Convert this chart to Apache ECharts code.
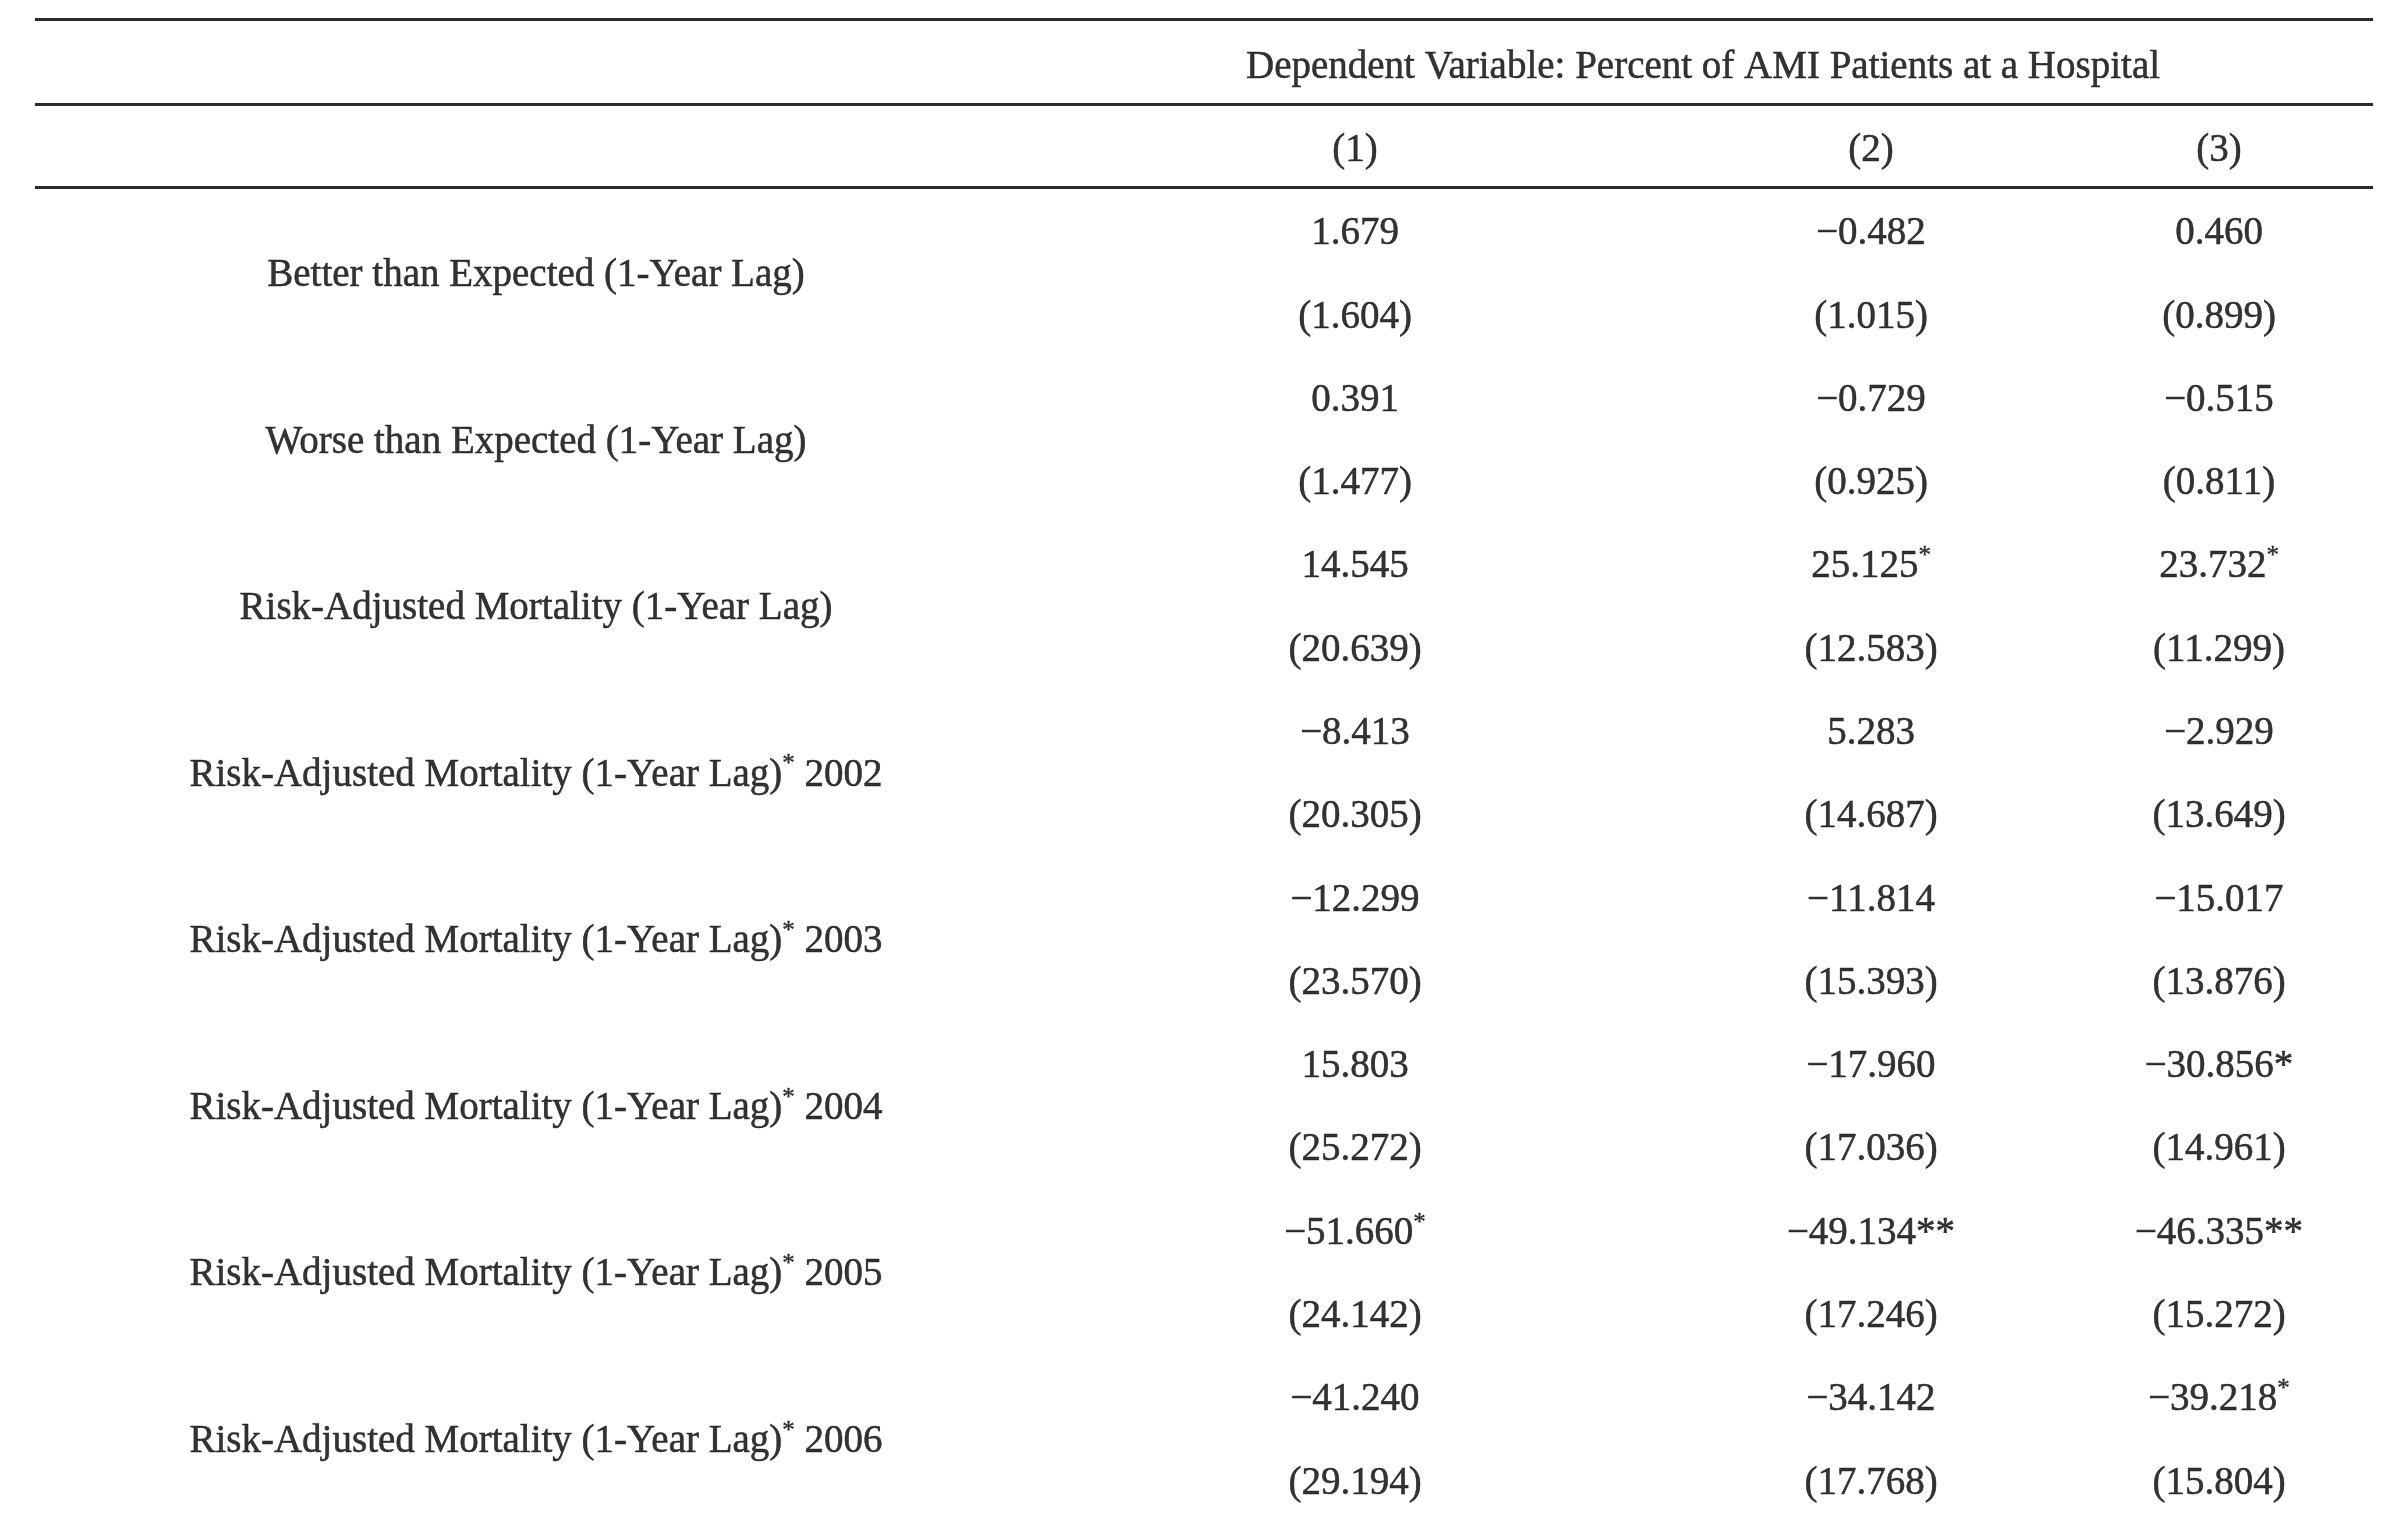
<!DOCTYPE html>
<html>
<head>
<meta charset="utf-8">
<title>AMI regression table</title>
<script src="https://cdn.jsdelivr.net/npm/echarts@6/dist/echarts.min.js"></script>
<style>
    html, body { margin: 0; padding: 0; background: #ffffff; }
    #chart { width: 2404px; height: 1525px; }
</style>
</head>
<body>
<div id="chart"></div>
<script>
// ---- table content ----
const title = 'Dependent Variable: Percent of AMI Patients at a Hospital';
const columnHeads = ['(1)', '(2)', '(3)'];

// "^*" marks a superscript asterisk
const rowLabels = [
    'Better than Expected (1-Year Lag)',
    'Worse than Expected (1-Year Lag)',
    'Risk-Adjusted Mortality (1-Year Lag)',
    'Risk-Adjusted Mortality (1-Year Lag)^* 2002',
    'Risk-Adjusted Mortality (1-Year Lag)^* 2003',
    'Risk-Adjusted Mortality (1-Year Lag)^* 2004',
    'Risk-Adjusted Mortality (1-Year Lag)^* 2005',
    'Risk-Adjusted Mortality (1-Year Lag)^* 2006'
];

const coef1 = [1.679, 0.391, 14.545, -8.413, -12.299, 15.803, -51.660, -41.240];
const stars1 = ['', '', '', '', '', '', '^*', ''];
const se1 = [1.604, 1.477, 20.639, 20.305, 23.570, 25.272, 24.142, 29.194];

const coef2 = [-0.482, -0.729, 25.125, 5.283, -11.814, -17.960, -49.134, -34.142];
const stars2 = ['', '', '^*', '', '', '', '**', ''];
const se2 = [1.015, 0.925, 12.583, 14.687, 15.393, 17.036, 17.246, 17.768];

const coef3 = [0.460, -0.515, 23.732, -2.929, -15.017, -30.856, -46.335, -39.218];
const stars3 = ['', '', '^*', '', '', '*', '**', '^*'];
const se3 = [0.899, 0.811, 11.299, 13.649, 13.876, 14.961, 15.272, 15.804];

// horizontal rules sit between header rows (row units)
const ruleRows = [-2.58, -1.56, -0.56];

// ---- helpers ----
const FONT = '"Liberation Serif", "Times New Roman", serif';
const FONT_SIZE = 39;
const INK = '#000000';

function fmt(v) {
    return (v < 0 ? '\u2212' : '') + Math.abs(v).toFixed(3);
}

// turn "abc^*def" into rich text tokens
function toRich(str) {
    return str.split('^*')
        .map(part => (part ? '{n|' + part + '}' : ''))
        .join('{s|*}');
}

const chart = echarts.init(document.getElementById('chart'));

// column layout (px)
const tableTop = 5;
const tableHeight = 1523;
const gridDefs = [
    { left: 35, width: 2338 },   // 0: rules
    { left: 35, width: 1002 },   // 1: row labels
    { left: 1037, width: 636 },  // 2: column (1)
    { left: 1673, width: 396 },  // 3: column (2)
    { left: 2069, width: 300 },  // 4: column (3)
    { left: 1037, width: 1332 }  // 5: spanning title
];

const grids = gridDefs.map(g => ({
    left: g.left, width: g.width, top: tableTop, height: tableHeight,
    containLabel: false
}));

const xAxes = gridDefs.map((g, i) => i === 0
    ? { type: 'value', gridIndex: i, min: 0, max: 1, show: false }
    : { type: 'category', gridIndex: i, data: [''], show: false });

const yAxes = gridDefs.map((g, i) => ({
    type: 'value', gridIndex: i, inverse: true,
    min: -2.75, max: 15.5, show: false
}));

const richStyles = {
    n: {
        fontFamily: FONT, fontSize: FONT_SIZE, color: INK, lineHeight: 46,
        textBorderColor: INK, textBorderWidth: 0.5
    },
    s: {
        fontFamily: FONT, fontSize: 25, color: INK, lineHeight: 21, verticalAlign: 'top',
        textBorderColor: INK, textBorderWidth: 0.4
    }
};

function textSeries(gridIndex, items) {
    return {
        type: 'scatter',
        xAxisIndex: gridIndex,
        yAxisIndex: gridIndex,
        symbolSize: 1,
        itemStyle: { color: 'rgba(0,0,0,0)' },
        silent: true,
        data: items.map(it => ({ value: [0, it.row], text: it.text })),
        label: {
            show: true,
            position: 'inside',
            align: 'center',
            verticalAlign: 'middle',
            formatter: p => toRich(p.data.text),
            rich: richStyles
        }
    };
}

const labelItems = rowLabels.map((t, i) => ({ row: 2 * i + 0.5, text: t }));

function columnItems(head, coef, stars, se) {
    const items = [{ row: -1, text: head }];
    coef.forEach((v, i) => {
        items.push({ row: 2 * i, text: fmt(v) + stars[i] });
        items.push({ row: 2 * i + 1, text: '(' + fmt(se[i]) + ')' });
    });
    return items;
}

const option = {
    backgroundColor: '#ffffff',
    animation: false,
    grid: grids,
    xAxis: xAxes,
    yAxis: yAxes,
    series: [
        {
            type: 'line',
            xAxisIndex: 0,
            yAxisIndex: 0,
            data: [],
            silent: true,
            markLine: {
                silent: true,
                symbol: ['none', 'none'],
                label: { show: false },
                lineStyle: { color: '#2b2b2b', width: 3, type: 'solid' },
                data: ruleRows.map(v => ({ yAxis: v }))
            }
        },
        textSeries(1, labelItems),
        textSeries(2, columnItems(columnHeads[0], coef1, stars1, se1)),
        textSeries(3, columnItems(columnHeads[1], coef2, stars2, se2)),
        textSeries(4, columnItems(columnHeads[2], coef3, stars3, se3)),
        textSeries(5, [{ row: -2, text: title }])
    ]
};

chart.setOption(option);
</script>
</body>
</html>
